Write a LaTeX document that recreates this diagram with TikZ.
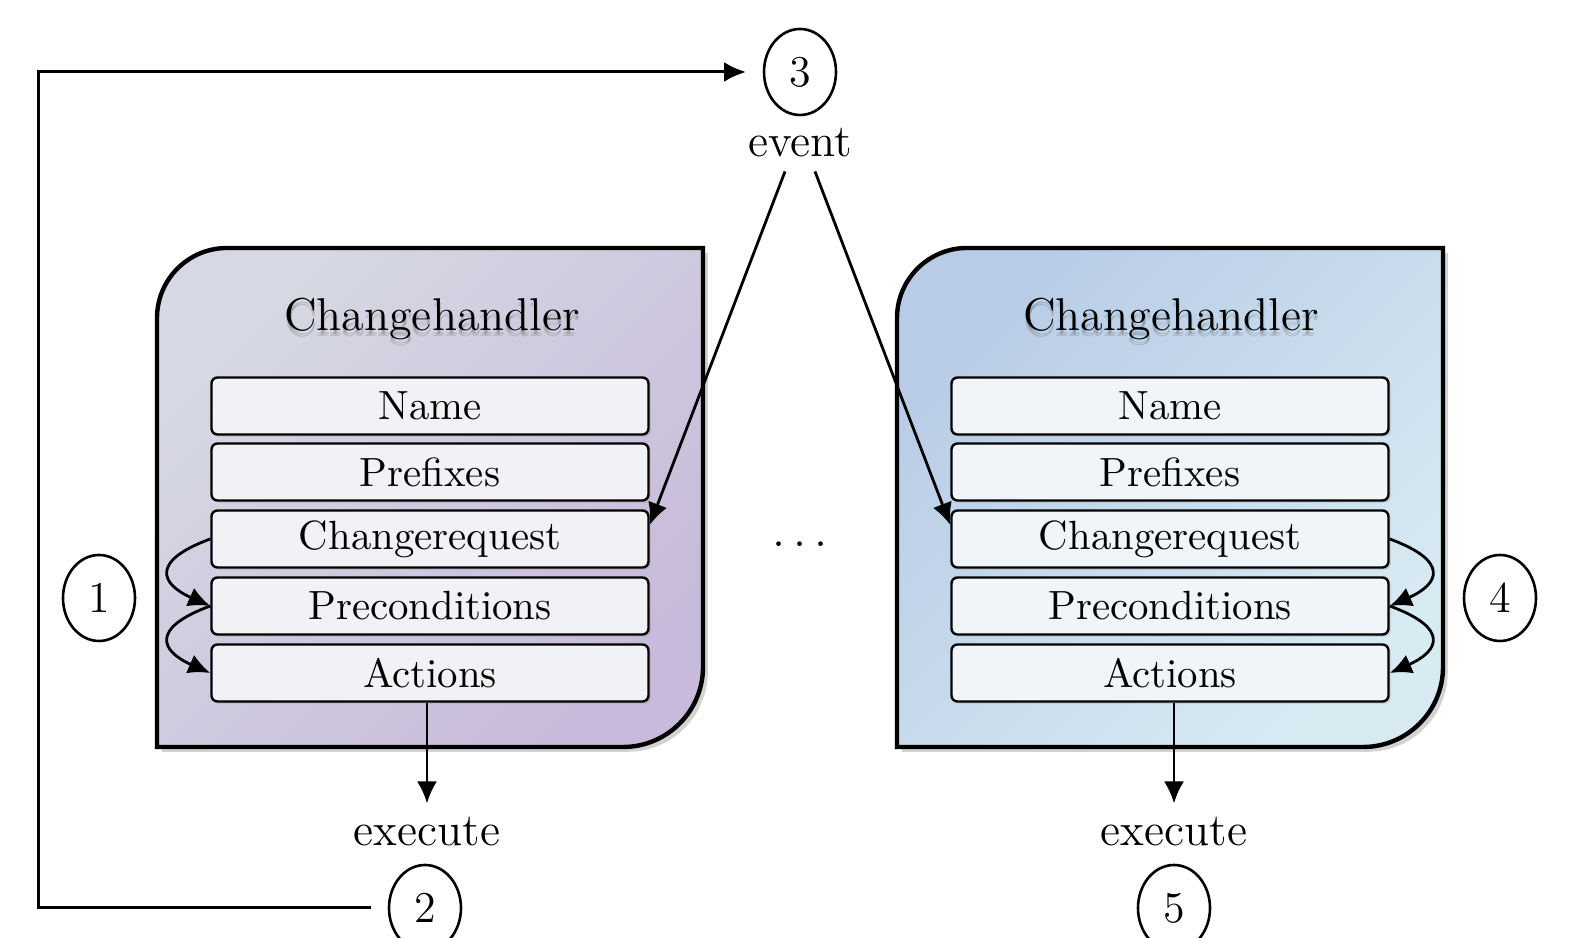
\documentclass[tikz,border=0pt]{standalone}
\usepackage{tikz}
\usetikzlibrary{arrows.meta, shapes.geometric, shadows}

\definecolor{lilactop}{RGB}{214,217,227}
\definecolor{lilacbot}{RGB}{200,186,218}
\definecolor{bluetop}{RGB}{184,204,230}
\definecolor{bluebot}{RGB}{216,235,243}
\definecolor{lilacfield}{RGB}{242,242,246}
\definecolor{bluefield}{RGB}{240,245,250}

\tikzset{
  handler/.style={draw, line width=1.1pt,
    drop shadow={opacity=0.35, shadow xshift=1.2pt, shadow yshift=-1.2pt}},
  field/.style={draw, line width=0.6pt, rounded corners=1.5pt,
    minimum width=109.25pt, minimum height=14.25pt, inner sep=0pt,
    drop shadow={opacity=0.2, shadow xshift=0.6pt, shadow yshift=-0.6pt},
    font=\fontsize{10.2}{12}\selectfont},
  title/.style={font=\fontsize{11.5}{14}\selectfont},
  titleshade/.style={title, text=black, text opacity=0.12},
  stepnum/.style={ellipse, draw, line width=0.65pt, minimum width=18pt,
    minimum height=21.5pt, inner sep=0pt, outer sep=4.5pt,
    font=\fontsize{11}{13}\selectfont},
  plain/.style={font=\fontsize{11.5}{13}\selectfont},
  link/.style={->, line width=0.7pt},
  >={Latex[length=5.5pt,width=5pt]}
}

\begin{document}
\begin{tikzpicture}[x=0.25pt, y=-0.25pt]
  \useasboundingbox (0,0) rectangle (1574,938);

  % the two handlers
  \path[handler, top color=lilactop, bottom color=lilacbot, shading angle=45]
    (157,747) -- (157,318) arc (180:270:70) -- (703,248) -- (703,667)
    arc (0:90:80) -- cycle;
  \path[handler, top color=bluetop, bottom color=bluebot, shading angle=45]
    (897,747) -- (897,318) arc (180:270:70) -- (1443,248) -- (1443,667)
    arc (0:90:80) -- cycle;

  \node[titleshade] at (433,323) {Changehandler};
  \node[titleshade] at (432,325) {Changehandler};
  \node[title] (ltitle) at (432,319) {Changehandler};
  \node[titleshade] at (1172,323) {Changehandler};
  \node[titleshade] at (1171,325) {Changehandler};
  \node[title] (rtitle) at (1171,319) {Changehandler};

  % fields, left
  \node[field, fill=lilacfield] (lname) at (430,406) {Name};
  \node[field, fill=lilacfield] (lpref) at (430,472) {Prefixes};
  \node[field, fill=lilacfield] (lreq) at (430,539) {Changerequest};
  \node[field, fill=lilacfield] (lpre) at (430,606) {Preconditions};
  \node[field, fill=lilacfield] (lact) at (430,673) {Actions};

  % fields, right
  \node[field, fill=bluefield] (rname) at (1170,406) {Name};
  \node[field, fill=bluefield] (rpref) at (1170,472) {Prefixes};
  \node[field, fill=bluefield] (rreq) at (1170,539) {Changerequest};
  \node[field, fill=bluefield] (rpre) at (1170,606) {Preconditions};
  \node[field, fill=bluefield] (ract) at (1170,673) {Actions};

  \node[plain] (dots) at (800,544) {$\ldots$};

  \node[stepnum] (one) at (99,598) {1};
  \node[stepnum] (two) at (425,908) {2};
  \node[stepnum] (three) at (800,72) {3};
  \node[stepnum] (four) at (1500,598) {4};
  \node[stepnum] (five) at (1174,908) {5};

  \node[plain] (event) at (800,143) {event};
  \node[plain] (lexec) at (427,832) {execute};
  \node[plain] (rexec) at (1174,832) {execute};

  % connectors
  \coordinate (loop) at (38,72);
  \draw[link, line width=0.75pt] (two.west) -| (loop) |- (three.west);

  \draw[link] ([xshift=-3.75pt]event.south) -- ([yshift=3.5pt]lreq.east);
  \draw[link] ([xshift=3.75pt]event.south) -- ([yshift=3.5pt]rreq.west);

  \draw[link] (lreq.west) .. controls +(-60,22) and +(-50,-22) .. (lpre.west);
  \draw[link] (lpre.west) .. controls +(-60,22) and +(-50,-22) .. (lact.west);
  \draw[link] (rreq.east) .. controls +(60,22) and +(50,-22) .. (rpre.east);
  \draw[link] (rpre.east) .. controls +(60,22) and +(50,-22) .. (ract.east);

  \draw[link] (lexec.north |- lact.south) -- (lexec.north);
  \draw[link] (rexec.north |- ract.south) -- (rexec.north);
\end{tikzpicture}
\end{document}
